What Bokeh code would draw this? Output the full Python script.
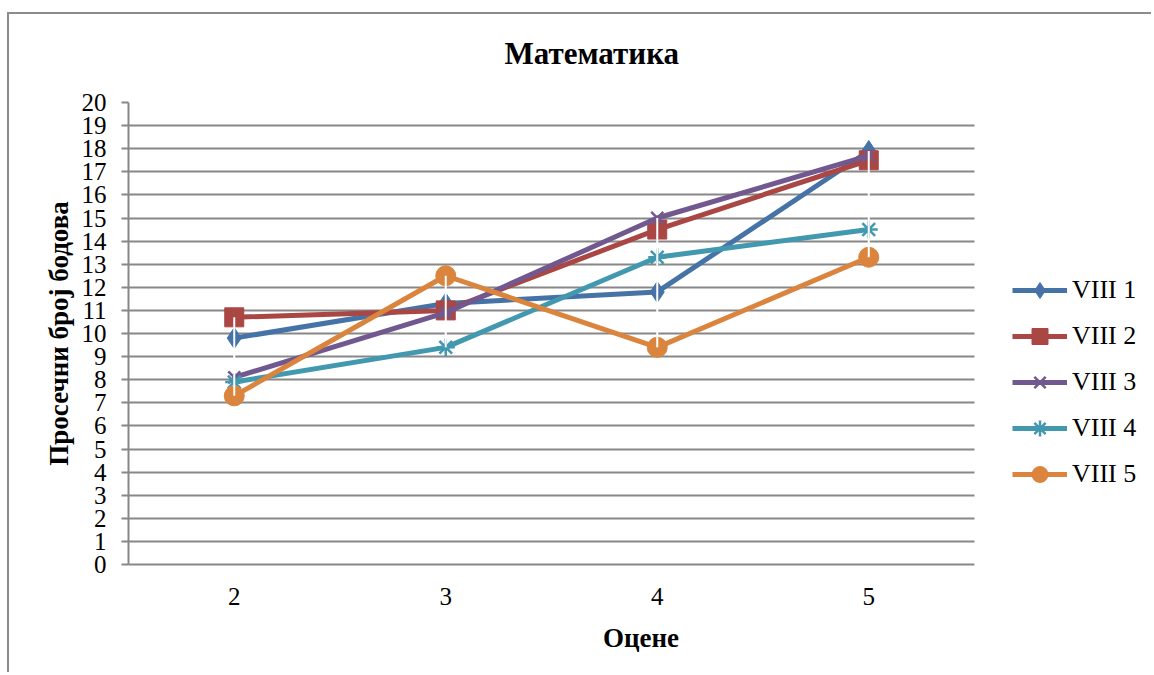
from bokeh.plotting import figure
from bokeh.models import Range1d, FixedTicker, Legend, LegendItem, BoxAnnotation, Title
from bokeh.embed import file_html
from bokeh.resources import INLINE

grades = ["2", "3", "4", "5"]
viii_1 = [9.8, 11.3, 11.8, 17.9]
viii_2 = [10.7, 11.0, 14.5, 17.5]
viii_3 = [8.1, 10.9, 15.0, 17.7]
viii_4 = [7.9, 9.4, 13.3, 14.5]
viii_5 = [7.3, 12.5, 9.4, 13.3]
series_names = ["VIII 1", "VIII 2", "VIII 3", "VIII 4", "VIII 5"]
y_ticks = list(range(0, 21))

series = [viii_1, viii_2, viii_3, viii_4, viii_5]
xs = [int(g) for g in grades]
colors = ["#4572A7", "#AA4643", "#71588F", "#4198AF", "#DB843D"]
markers = ["diamond", "square", "x", "asterisk", "circle"]
msizes = [21, 19, 17, 18, 20]

FONT = "Liberation Serif"
GRID = "#878787"

W, H = 1144, 660
MB_L = 119
FRAME_W = W - MB_L
PX_PER_CAT = 846 / 4.0
x_lo = xs[0] - 0.5
x_hi_plot = xs[-1] + 0.5
x_end = x_lo + FRAME_W / PX_PER_CAT

p = figure(width=W, height=H, x_range=Range1d(x_lo, x_end), y_range=Range1d(0, 20),
           output_backend="svg", toolbar_location=None,
           min_border_left=MB_L, min_border_top=88, min_border_bottom=110, min_border_right=0)
p.title = None
p.styles = {"border-left": "2px solid #8c8c8c", "border-top": "2px solid #8c8c8c",
            "margin-top": "12px", "margin-left": "7px"}

# spacer between title and plot area, then the title itself
p.add_layout(Title(text=" ", text_font_size="10px", standoff=19), "above")
p.add_layout(Title(text="Математика", align="left", offset=376, standoff=0,
                   text_font=FONT, text_font_size="31px", text_font_style="bold",
                   text_color="black"), "above")

p.outline_line_color = None
p.xgrid.grid_line_color = None
p.ygrid.grid_line_color = GRID
p.ygrid.grid_line_width = 2

p.yaxis.ticker = FixedTicker(ticks=y_ticks)
p.yaxis.axis_line_color = GRID
p.yaxis.axis_line_width = 2
p.yaxis.major_tick_line_color = GRID
p.yaxis.major_tick_line_width = 2
p.yaxis.major_tick_out = 7
p.yaxis.major_tick_in = 0
p.yaxis.minor_tick_line_color = None
p.yaxis.major_label_text_font = FONT
p.yaxis.major_label_text_font_size = "25px"
p.yaxis.major_label_text_color = "black"
p.yaxis.major_label_standoff = 15
p.yaxis.axis_label = "Просечни број бодова"
p.yaxis.axis_label_text_font = FONT
p.yaxis.axis_label_text_font_size = "27px"
p.yaxis.axis_label_text_font_style = "bold"
p.yaxis.axis_label_text_color = "black"
p.yaxis.axis_label_standoff = 5

p.xaxis.ticker = FixedTicker(ticks=xs)
p.xaxis.major_label_overrides = {x: g for x, g in zip(xs, grades)}
p.xaxis.bounds = (x_lo, x_hi_plot)
p.xaxis.axis_line_color = GRID
p.xaxis.axis_line_width = 2
p.xaxis.major_tick_line_color = None
p.xaxis.minor_tick_line_color = None
p.xaxis.major_label_text_font = FONT
p.xaxis.major_label_text_font_size = "25px"
p.xaxis.major_label_text_color = "black"
p.xaxis.major_label_standoff = 17
p.xaxis.axis_label = "Оцене"
p.xaxis.axis_label_text_font = FONT
p.xaxis.axis_label_text_font_size = "27px"
p.xaxis.axis_label_text_font_style = "bold"
p.xaxis.axis_label_text_color = "black"
p.xaxis.axis_label_standoff = 15

items = []
for name, vals, c, m, s in zip(series_names, series, colors, markers, msizes):
    r1 = p.line(xs, vals, line_color=c, line_width=5, line_join="round")
    lw = 2.5 if m in ("x", "asterisk") else 1
    r2 = p.scatter(xs, vals, marker=m, size=s, fill_color=c, line_color=c, line_width=lw)
    items.append(LegendItem(label=name, renderers=[r1, r2]))

# white high-low lines
lows = [min(v) for v in zip(*series)]
highs = [max(v) for v in zip(*series)]
p.segment(x0=xs, y0=lows, x1=xs, y1=highs, line_color="white", line_width=2)

# blank out gridlines to the right of the plot area (legend area)
p.add_layout(BoxAnnotation(left=x_hi_plot, fill_color="white", fill_alpha=1.0,
                           line_color=None, level="annotation"))

legend = Legend(items=items, location=(884, 70), orientation="vertical")
legend.label_text_font = FONT
legend.label_text_font_size = "26px"
legend.label_text_color = "black"
legend.glyph_width = 55
legend.glyph_height = 40
legend.spacing = 6
legend.padding = 0
legend.margin = 0
legend.label_standoff = 5
legend.border_line_color = None
legend.background_fill_alpha = 0
p.add_layout(legend)

open("out.html", "w").write(file_html(p, INLINE))
